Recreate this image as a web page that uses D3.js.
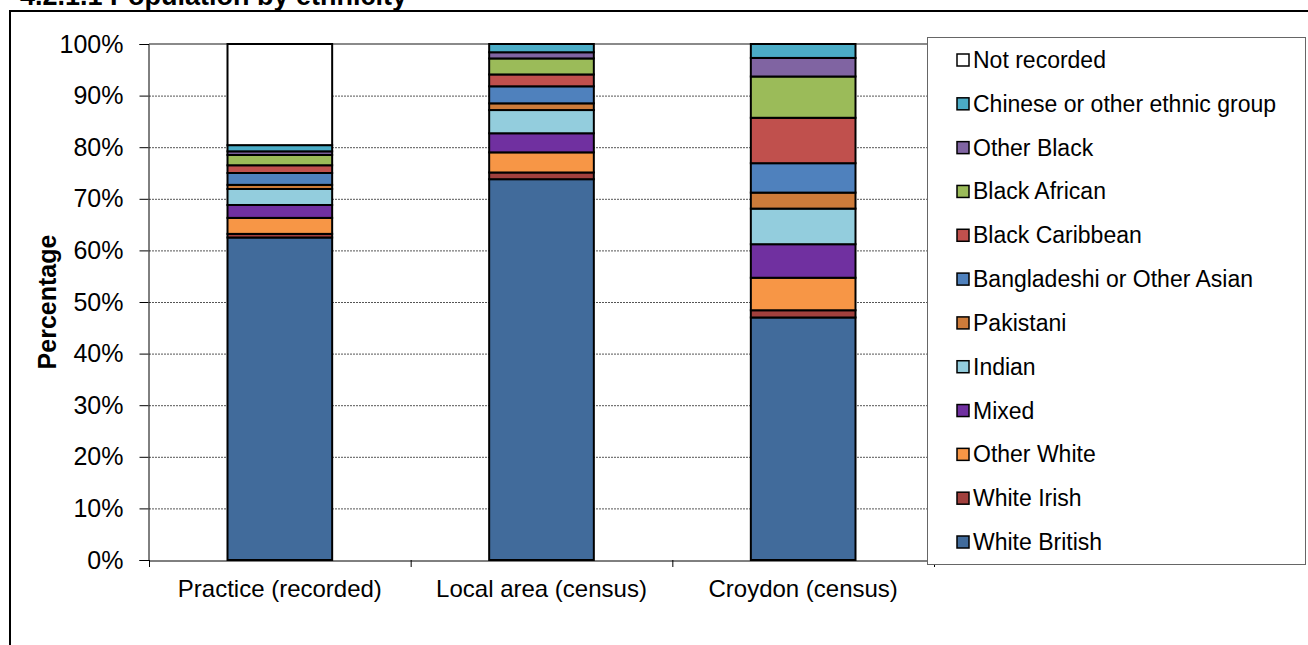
<!DOCTYPE html>
<html>
<head>
<meta charset="utf-8">
<script src="https://cdn.jsdelivr.net/npm/d3@7/dist/d3.min.js"></script>
<style>
  html, body { margin: 0; padding: 0; background: #fff; }
  svg { display: block; font-family: "Liberation Sans", Arial, sans-serif; }
</style>
</head>
<body>
<svg id="chart" width="1308" height="645"></svg>
<script>
// Areas compared
const categories = ["Practice (recorded)", "Local area (census)", "Croydon (census)"];

// Ethnic groups, stacked bottom to top
const groups = ["White British", "White Irish", "Other White", "Mixed", "Indian", "Pakistani",
  "Bangladeshi or Other Asian", "Black Caribbean", "Black African", "Other Black",
  "Chinese or other ethnic group", "Not recorded"];

const groupColors = ["#416B9B", "#A1403D", "#F79646", "#7030A0", "#93CDDD", "#CD7B3A",
  "#4F81BD", "#C0504D", "#9BBB59", "#8064A2", "#4BACC6", "#FFFFFF"];

// Percentage of each area's population in each group (same order as groups)
const practice  = [62.5, 0.7, 3.1, 2.5, 3.1, 0.8, 2.3, 1.5, 2.0, 0.7, 1.2, 19.6];
const localArea = [73.8, 1.3, 3.9, 3.7, 4.5, 1.3, 3.3, 2.3, 3.1, 1.2, 1.6, 0.0];
const croydon   = [47.0, 1.4, 6.3, 6.5, 6.9, 3.1, 5.7, 8.8, 8.0, 3.6, 2.7, 0.0];

const yTicks = [0, 10, 20, 30, 40, 50, 60, 70, 80, 90, 100];

const seriesByArea = [practice, localArea, croydon];
const rows = categories.map((c, i) => {
  const r = { area: c };
  groups.forEach((g, j) => { r[g] = seriesByArea[i][j]; });
  return r;
});

const svg = d3.select("#chart");
const FONT = "'Liberation Sans', Arial, sans-serif";

// Outer frame and heading
svg.append("rect")
  .attr("x", 10).attr("y", 11).attr("width", 1320).attr("height", 660)
  .attr("fill", "none").attr("stroke", "#000").attr("stroke-width", 2);

svg.append("text")
  .attr("x", 20).attr("y", 5)
  .attr("font-size", 27).attr("font-weight", "bold")
  .text("4.2.1.1 Population by ethnicity");

const plot = { left: 149, right: 934, top: 44, bottom: 560 };

const x = d3.scaleBand().domain(categories).range([plot.left, plot.right]).paddingInner(0.6).paddingOuter(0.3);
const xOuter = d3.scaleBand().domain(categories).range([plot.left, plot.right]);
const y = d3.scaleLinear().domain([0, 100]).range([plot.bottom, plot.top]);

// Gridlines
svg.append("g").selectAll("line")
  .data(yTicks.filter(t => t > 0 && t < 100))
  .join("line")
  .attr("x1", plot.left).attr("x2", plot.right)
  .attr("y1", d => y(d) + 0.5).attr("y2", d => y(d) + 0.5)
  .attr("stroke", "#555").attr("stroke-width", 1).attr("stroke-dasharray", "2,1");

// Top border of plot area
svg.append("line")
  .attr("x1", plot.left).attr("x2", plot.right)
  .attr("y1", y(100)).attr("y2", y(100))
  .attr("stroke", "#8a8a8a").attr("stroke-width", 2);

// Stacked bars
const stack = d3.stack().keys(groups)(rows);
const color = d3.scaleOrdinal().domain(groups).range(groupColors);

svg.append("g").selectAll("g")
  .data(stack)
  .join("g")
  .attr("fill", d => color(d.key))
  .selectAll("rect")
  .data(d => d.filter(s => s[1] - s[0] > 0))
  .join("rect")
  .attr("x", d => x(d.data.area))
  .attr("width", x.bandwidth())
  .attr("y", d => y(d[1]))
  .attr("height", d => y(d[0]) - y(d[1]))
  .attr("stroke", "#000").attr("stroke-width", 2);

// Y axis
const yAxis = svg.append("g")
  .attr("transform", `translate(${plot.left - 0.5},0)`)
  .call(d3.axisLeft(y).tickValues(yTicks).tickFormat(d => d + "%").tickSize(9).tickPadding(16));
yAxis.select(".domain").attr("stroke", "#000");
yAxis.selectAll(".tick line").attr("stroke", "#000");
yAxis.selectAll(".tick text").attr("font-size", 25).attr("fill", "#000")
  .attr("font-family", FONT);

// X axis
const xAxis = svg.append("g")
  .attr("transform", `translate(0,${plot.bottom + 0.5})`)
  .call(d3.axisBottom(xOuter).tickSize(0).tickFormat(""));
xAxis.select(".domain").attr("stroke", "#000");
svg.append("g").selectAll("text")
  .data(categories)
  .join("text")
  .attr("x", d => xOuter(d) + xOuter.bandwidth() / 2)
  .attr("y", 597)
  .attr("text-anchor", "middle")
  .attr("font-size", 24)
  .text(d => d);
svg.append("g").selectAll("line")
  .data(categories.map(c => xOuter(c)).concat([plot.right]))
  .join("line")
  .attr("x1", d => d + 0.5).attr("x2", d => d + 0.5)
  .attr("y1", plot.bottom).attr("y2", plot.bottom + 7)
  .attr("stroke", "#000");

// Axis title
svg.append("text")
  .attr("transform", `translate(56,${(plot.top + plot.bottom) / 2}) rotate(-90)`)
  .attr("text-anchor", "middle")
  .attr("font-size", 25).attr("font-weight", "bold")
  .text("Percentage");

// Legend (top entry is the top of the stack)
const legend = svg.append("g");
legend.append("rect")
  .attr("x", 927.5).attr("y", 37.5).attr("width", 378).attr("height", 527)
  .attr("fill", "#fff").attr("stroke", "#666").attr("stroke-width", 1);

const legendOrder = groups.slice().reverse();
const legendY = d3.scalePoint().domain(legendOrder).range([60, 542]);

const item = legend.selectAll("g.item")
  .data(legendOrder)
  .join("g")
  .attr("class", "item")
  .attr("transform", d => `translate(957,${legendY(d)})`);
item.append("rect")
  .attr("x", 0).attr("y", -6).attr("width", 12).attr("height", 12)
  .attr("fill", d => color(d)).attr("stroke", "#000").attr("stroke-width", 1.5);
item.append("text")
  .attr("x", 16).attr("y", 8)
  .attr("font-size", 23)
  .text(d => d);
</script>
</body>
</html>
